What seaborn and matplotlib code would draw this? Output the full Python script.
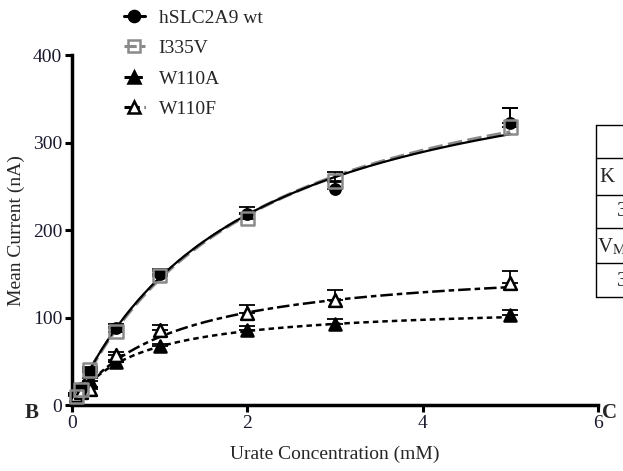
import numpy as np
import pandas as pd
import matplotlib
matplotlib.use("Agg")
import matplotlib.pyplot as plt
import seaborn as sns
from matplotlib.lines import Line2D

# Urate concentrations (mM)
conc = [0.05, 0.1, 0.2, 0.5, 1, 2, 3, 5]

# Mean currents (nA) and SEM for each construct
wt = [12, 20, 38, 88, 150, 218, 247, 322]
wt_err = [2, 3, 4, 5, 6, 8, 8, 18]
i335v = [10, 18, 40, 84, 148, 213, 256, 318]
i335v_err = [2, 3, 4, 5, 5, 7, 10, 22]
w110a = [12, 17, 28, 49, 67, 86, 93, 103]
w110a_err = [2, 2, 3, 3, 3, 4, 5, 6]
w110f = [12, 15, 18, 57, 86, 105, 120, 139]
w110f_err = [2, 2, 3, 4, 6, 9, 12, 14]

# Michaelis-Menten fit parameters (Vmax in nA, Km in mM)
fit_vmax = {"hSLC2A9 wt": 431, "I335V": 440, "W110A": 115, "W110F": 165}
fit_km = {"hSLC2A9 wt": 1.96, "I335V": 2.05, "W110A": 0.72, "W110F": 1.12}

series_names = ["hSLC2A9 wt", "I335V", "W110A", "W110F"]
series_vals = [wt, i335v, w110a, w110f]
series_errs = [wt_err, i335v_err, w110a_err, w110f_err]

sns.set_theme(style="ticks")
plt.rcParams["font.family"] = ["Liberation Serif", "DejaVu Serif"]
plt.rcParams["mathtext.fontset"] = "stix"

fig = plt.figure(figsize=(6.23, 4.71), dpi=100)
ax = fig.add_axes([0.1156, 0.140, 0.8443, 0.743])

styles = {
    "hSLC2A9 wt": dict(color="black", ls="-", lw=1.6, marker="o", mfc="black", mec="black", s=55, z=5),
    "I335V": dict(color="#8a8a8a", ls=(0, (4, 1.5)), lw=2.6, marker="s", mfc="none", mec="#8a8a8a", s=95, z=6),
    "W110A": dict(color="black", ls=(0, (2.2, 1.6)), lw=1.8, marker="^", mfc="black", mec="black", s=75, z=5),
    "W110F": dict(color="black", ls=(0, (5, 1.6, 2.2, 1.6)), lw=1.8, marker="^", mfc="white", mec="black", s=85, z=5),
}

xfit = np.linspace(0, 5, 200)
for name, vals, errs in zip(series_names, series_vals, series_errs):
    st = styles[name]
    # fitted saturation curve
    curve = pd.DataFrame({"x": xfit, "y": fit_vmax[name] * xfit / (fit_km[name] + xfit)})
    sns.lineplot(data=curve, x="x", y="y", ax=ax, color=st["color"], lw=st["lw"],
                 linestyle=st["ls"], zorder=3 if name == "I335V" else 4)
    # upward SEM bars
    ax.errorbar(conc, vals, yerr=[np.zeros(len(errs)), errs], fmt="none",
                ecolor="black", elinewidth=1.3, capsize=6, capthick=1.3,
                zorder=st["z"], clip_on=False)
    df = pd.DataFrame({"x": conc, "y": vals})
    sns.scatterplot(data=df, x="x", y="y", ax=ax, marker=st["marker"], s=st["s"],
                    facecolor=st["mfc"], edgecolor=st["mec"], linewidth=1.8,
                    zorder=st["z"] + 1, clip_on=False)

ax.set_xlim(0, 6)
ax.set_ylim(0, 400)
ax.set_xticks([0, 2, 4, 6])
ax.set_yticks([0, 100, 200, 300, 400])
ax.tick_params(axis="both", direction="out", length=5, width=2.2, labelsize=14,
               colors="black", labelcolor="#1a1a2e", pad=2)
for side in ["top", "right"]:
    ax.spines[side].set_visible(False)
for side in ["left", "bottom"]:
    ax.spines[side].set_linewidth(2.5)
    ax.spines[side].set_color("black")
ax.set_xlabel("Urate Concentration (mM)", fontsize=14, labelpad=10)
ax.set_ylabel("Mean Current (nA)", fontsize=14, labelpad=6)

handles = []
for name in series_names:
    st = styles[name]
    handles.append(Line2D([0], [0], color=st["color"], ls=st["ls"], lw=2.2,
                          marker=st["marker"], ms=8, mfc=st["mfc"], mec=st["mec"], mew=1.8))
fig.legend(handles, series_names, loc="upper left", bbox_to_anchor=(0.186, 0.997),
           frameon=False, fontsize=14, handlelength=1.1, handletextpad=0.7,
           labelspacing=0.66, borderaxespad=0)

# panel letters
fig.text(25 / 623, 1 - 413 / 471, "B", fontsize=15, fontweight="bold", va="center", ha="left")
fig.text(602 / 623, 1 - 413 / 471, "C", fontsize=15, fontweight="bold", va="center", ha="left")

# neighbouring table edge
left = 596 / 623
rows = [125, 158, 195, 228, 263, 297]
for r in rows:
    fig.add_artist(Line2D([left, 1.0], [1 - r / 471] * 2, color="black", lw=1.0))
fig.add_artist(Line2D([left, left], [1 - rows[0] / 471, 1 - rows[-1] / 471], color="black", lw=1.0))
fig.text(599 / 623, 1 - 178 / 471, "K", fontsize=15, va="center", ha="left")
fig.text(617 / 623, 1 - 212 / 471, "3", fontsize=15, va="center", ha="left")
fig.text(597 / 623, 1 - 247 / 471, r"V$_\mathrm{M}$", fontsize=15, va="center", ha="left")
fig.text(617 / 623, 1 - 282 / 471, "3", fontsize=15, va="center", ha="left")

fig.savefig("out.png", dpi=100, facecolor="white")
